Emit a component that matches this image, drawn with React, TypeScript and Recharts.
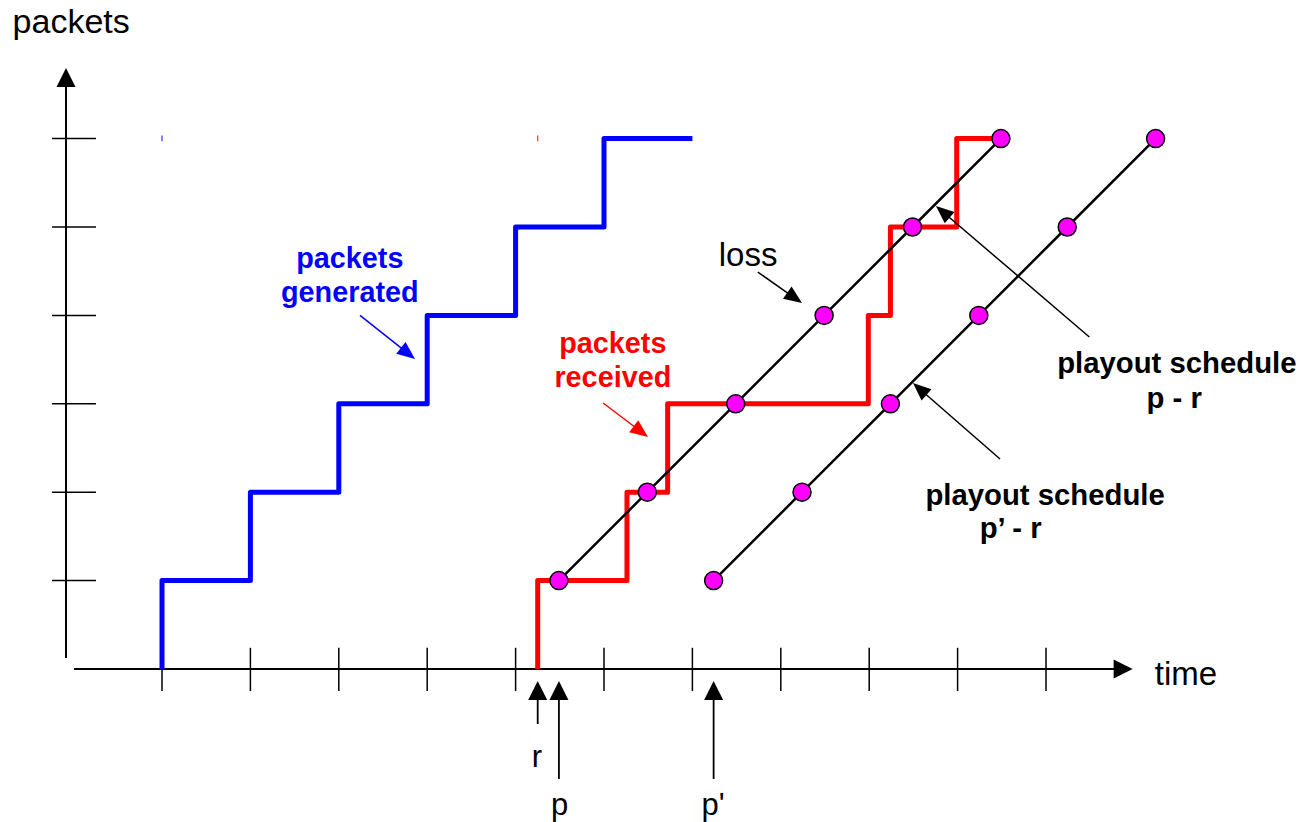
import React from "react";
import { ComposedChart, Line, XAxis, YAxis, ReferenceLine, ReferenceDot } from "recharts";

// ---- data (time in tick units, packets in packet units) ----
const generatedTime = [1, 1, 2, 3, 4, 5, 6, 7];
const generatedCount = [0, 1, 2, 3, 4, 5, 6, 6];

const receivedTime = [5.25, 5.25, 6.26, 6.72, 8.99, 9.24, 9.99, 10.49];
const receivedCount = [0, 1, 2, 3, 4, 5, 6, 6];

const playoutPTime = [5.49, 6.49, 7.49, 8.49, 9.49, 10.49];
const playoutPCount = [1, 2, 3, 4, 5, 6];

const playoutP2Time = [7.24, 8.24, 9.24, 10.24, 11.24, 12.24];
const playoutP2Count = [1, 2, 3, 4, 5, 6];

const xTickValues = [1, 2, 3, 4, 5, 6, 7, 8, 9, 10, 11];
const yTickValues = [1, 2, 3, 4, 5, 6];

const markerTimes = { r: 5.25, p: 5.49, p2: 7.24 };

// ---- layout ----
const W = 1301;
const H = 822;
const UNIT = 88.4;
const ORIGIN_X = 73.6;
const ORIGIN_Y = 669;
const X_DOMAIN: [number, number] = [-ORIGIN_X / UNIT, (W - ORIGIN_X) / UNIT];
const Y_DOMAIN: [number, number] = [(ORIGIN_Y - H) / UNIT, ORIGIN_Y / UNIT];
const FONT = "'Liberation Sans', Arial, Helvetica, sans-serif";

const zip = (ts: number[], ns: number[]) => ts.map((t, i) => ({ t, n: ns[i] }));
const generatedData = zip(generatedTime, generatedCount);
const receivedData = zip(receivedTime, receivedCount);
const playoutPData = zip(playoutPTime, playoutPCount);
const playoutP2Data = zip(playoutP2Time, playoutP2Count);

const arrowShape = (headLen: number, headWidth: number, sw: number, color = "#000") => (props: any) => {
  const { x1, y1, x2, y2 } = props;
  const dx = x2 - x1;
  const dy = y2 - y1;
  const len = Math.hypot(dx, dy) || 1;
  const ux = dx / len;
  const uy = dy / len;
  const bx = x2 - ux * headLen;
  const by = y2 - uy * headLen;
  const px = (-uy * headWidth) / 2;
  const py = (ux * headWidth) / 2;
  return (
    <g>
      <line x1={x1} y1={y1} x2={bx + ux * 1} y2={by + uy * 1} stroke={color} strokeWidth={sw} />
      <polygon points={`${x2},${y2} ${bx + px},${by + py} ${bx - px},${by - py}`} fill={color} />
    </g>
  );
};

const plainLine = (color: string, sw: number) => (props: any) => (
  <line x1={props.x1} y1={props.y1} x2={props.x2} y2={props.y2} stroke={color} strokeWidth={sw} />
);

type Txt = {
  text: string;
  t: number;
  n: number;
  size: number;
  bold?: boolean;
  color: string;
  anchor: "start" | "middle" | "end";
};

const texts: Txt[] = [
  { text: "packets", t: -0.69, n: 7.19, size: 34, color: "#000", anchor: "start" },
  { text: "time", t: 12.23, n: -0.18, size: 33, color: "#000", anchor: "start" },
  { text: "loss", t: 7.63, n: 4.56, size: 33, color: "#000", anchor: "middle" },
  { text: "packets", t: 3.125, n: 4.536, size: 28.8, bold: true, color: "#0000ff", anchor: "middle" },
  { text: "generated", t: 3.125, n: 4.15, size: 28.8, bold: true, color: "#0000ff", anchor: "middle" },
  { text: "packets", t: 6.1, n: 3.575, size: 28.8, bold: true, color: "#ff0000", anchor: "middle" },
  { text: "received", t: 6.1, n: 3.19, size: 28.8, bold: true, color: "#ff0000", anchor: "middle" },
  { text: "playout schedule", t: 12.48, n: 3.348, size: 29.3, bold: true, color: "#000", anchor: "middle" },
  { text: "p - r", t: 12.45, n: 2.952, size: 29.3, bold: true, color: "#000", anchor: "middle" },
  { text: "playout schedule", t: 10.99, n: 1.855, size: 29.3, bold: true, color: "#000", anchor: "middle" },
  { text: "p\u2019 - r", t: 10.6, n: 1.482, size: 29.3, bold: true, color: "#000", anchor: "middle" },
  { text: "r", t: 5.24, n: -1.109, size: 31, color: "#000", anchor: "middle" },
  { text: "p", t: 5.497, n: -1.652, size: 31, color: "#000", anchor: "middle" },
  { text: "p'", t: 7.233, n: -1.652, size: 31, color: "#000", anchor: "middle" },
];

type Arrow = { from: [number, number]; to: [number, number]; color: string };
const annotationArrows: Arrow[] = [
  { from: [3.24, 4.0], to: [3.862, 3.507], color: "#0000ff" },
  { from: [5.99, 3.009], to: [6.498, 2.624], color: "#ff0000" },
  { from: [7.74, 4.49], to: [8.24, 4.14], color: "#000" },
  { from: [11.49, 3.756], to: [9.755, 5.238], color: "#000" },
  { from: [10.48, 2.376], to: [9.495, 3.235], color: "#000" },
];

const timeMarkers = [
  { t: markerTimes.r, bottom: -0.622 },
  { t: markerTimes.p, bottom: -1.244 },
  { t: markerTimes.p2, bottom: -1.244 },
];

const dotStyle = { r: 9, fill: "#ff00ff", stroke: "#000", strokeWidth: 1.5 };

export default function App() {
  return (
    <div style={{ position: "absolute", left: 0, top: 0, width: W, height: H, background: "#fff" }}>
      <ComposedChart width={W} height={H} margin={{ top: 0, right: 0, bottom: 0, left: 0 }}>
        <XAxis type="number" dataKey="t" domain={X_DOMAIN} allowDataOverflow hide />
        <YAxis type="number" dataKey="n" domain={Y_DOMAIN} allowDataOverflow hide />

        {/* axes */}
        <ReferenceLine
          segment={[{ x: 0.005, y: 0 }, { x: 11.98, y: 0 }]}
          ifOverflow="visible"
          shape={arrowShape(19, 19, 1.8)}
        />
        <ReferenceLine
          segment={[{ x: -0.086, y: 0.124 }, { x: -0.086, y: 6.8 }]}
          ifOverflow="visible"
          shape={arrowShape(19, 19, 2)}
        />
        {xTickValues.map((v) => (
          <ReferenceLine
            key={`xt${v}`}
            segment={[{ x: v, y: 0.24 }, { x: v, y: -0.25 }]}
            ifOverflow="visible"
            shape={plainLine("#000", 1.5)}
          />
        ))}
        {yTickValues.map((v) => (
          <ReferenceLine
            key={`yt${v}`}
            segment={[{ x: -0.244, y: v }, { x: 0.253, y: v }]}
            ifOverflow="visible"
            shape={plainLine("#000", 1.5)}
          />
        ))}

        {/* tiny stray marks */}
        <ReferenceLine
          segment={[{ x: 1, y: 6.035 }, { x: 1, y: 5.97 }]}
          ifOverflow="visible"
          shape={plainLine("#4040ff", 1.3)}
        />
        <ReferenceLine
          segment={[{ x: 5.25, y: 6.035 }, { x: 5.25, y: 5.97 }]}
          ifOverflow="visible"
          shape={plainLine("#ff4040", 1.3)}
        />

        {/* series */}
        <Line
          data={generatedData}
          dataKey="n"
          type="stepAfter"
          stroke="#0000ff"
          strokeWidth={5}
          strokeLinejoin="round"
          dot={false}
          activeDot={false}
          isAnimationActive={false}
        />
        <Line
          data={receivedData}
          dataKey="n"
          type="stepAfter"
          stroke="#ff0000"
          strokeWidth={5}
          strokeLinejoin="round"
          dot={false}
          activeDot={false}
          isAnimationActive={false}
        />
        <Line
          data={playoutPData}
          dataKey="n"
          type="linear"
          stroke="#000"
          strokeWidth={2.5}
          dot={dotStyle}
          activeDot={false}
          isAnimationActive={false}
        />
        <Line
          data={playoutP2Data}
          dataKey="n"
          type="linear"
          stroke="#000"
          strokeWidth={2.5}
          dot={dotStyle}
          activeDot={false}
          isAnimationActive={false}
        />

        {/* time markers r, p, p' */}
        {timeMarkers.map((m, i) => (
          <ReferenceLine
            key={`tm${i}`}
            segment={[{ x: m.t, y: m.bottom }, { x: m.t, y: -0.136 }]}
            ifOverflow="visible"
            shape={arrowShape(19, 19, 1.8)}
          />
        ))}

        {/* annotation arrows */}
        {annotationArrows.map((a, i) => (
          <ReferenceLine
            key={`aa${i}`}
            segment={[{ x: a.from[0], y: a.from[1] }, { x: a.to[0], y: a.to[1] }]}
            ifOverflow="visible"
            shape={arrowShape(18, 15, 1.5, a.color)}
          />
        ))}

        {/* texts */}
        {texts.map((tx, i) => (
          <ReferenceDot
            key={`tx${i}`}
            x={tx.t}
            y={tx.n}
            ifOverflow="visible"
            shape={(p: any) => (
              <text
                x={p.cx}
                y={p.cy}
                textAnchor={tx.anchor}
                fontFamily={FONT}
                fontSize={tx.size}
                fontWeight={tx.bold ? "bold" : "normal"}
                fill={tx.color}
              >
                {tx.text}
              </text>
            )}
          />
        ))}
      </ComposedChart>
    </div>
  );
}
